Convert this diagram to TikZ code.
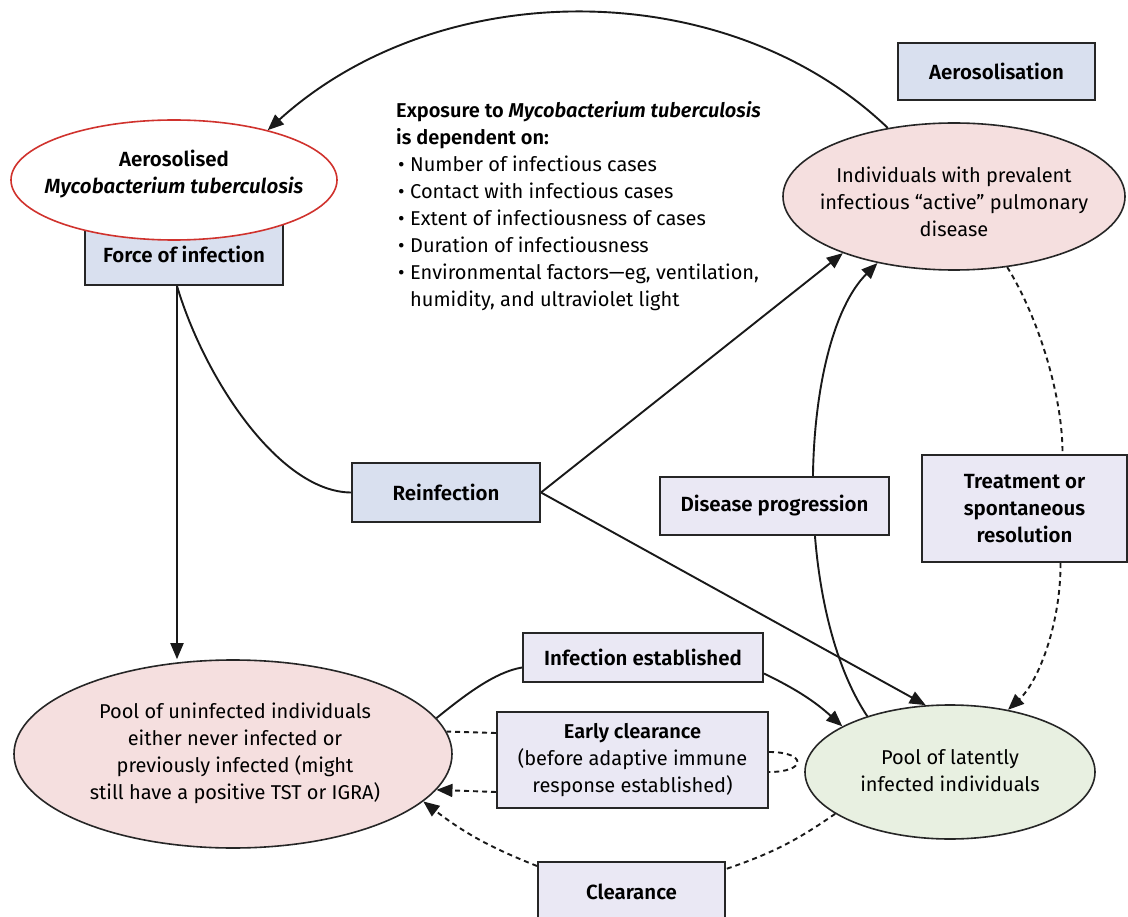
\documentclass[tikz,border=0pt]{standalone}
\usepackage{fontspec}
\setmainfont{Fira Sans}[BoldFont={Fira Sans SemiBold},BoldItalicFont={Fira Sans SemiBold Italic}]
\usetikzlibrary{arrows.meta,shapes.geometric}
\pgfdeclarelayer{bg}
\pgfsetlayers{bg,main}
\definecolor{boxblue}{HTML}{D9E0EF}
\definecolor{boxlav}{HTML}{EAE8F4}
\definecolor{pinkfill}{HTML}{F5DFDF}
\definecolor{greenfill}{HTML}{E8F0E1}
\definecolor{aerored}{HTML}{D0322D}
\newcommand{\fs}{\fontsize{20}{27}\selectfont}
\newcommand{\fb}{\fontsize{20.5}{27}\selectfont\bfseries}
\newcommand{\bul}{\hspace*{2pt}\makebox[12pt][l]{•}}
\begin{document}
\begin{tikzpicture}[x=1pt,y=-1pt,
  base/.style={font=\fs, align=center, inner sep=2pt},
  bluebox/.style={base, draw=black!85, line width=2pt, fill=boxblue, font=\fb},
  lavbox/.style={bluebox, fill=boxlav},
  pool/.style={ellipse, draw=black!85, line width=1.6pt, inner sep=0pt},
  conn/.style={line width=1.9pt, draw=black!90},
  tip/.style={-{Triangle[length=16pt,width=13pt]}},
  arr/.style={conn, tip},
  dashline/.style={conn, dash pattern=on 5pt off 4pt},
  dasharr/.style={dashline, tip}]
\useasboundingbox (0,0) rectangle (1128,917);

% boxes
\node[bluebox, minimum width=197, minimum height=57] (aerosol) at (996.5,71.5) {Aerosolisation};
\node[bluebox, minimum width=198, minimum height=62] (force) at (184,254) {Force of infection};
\node[pool, draw=aerored, fill=white, minimum width=326, minimum height=120] (aero) at (174,180) {};
\node[base, font=\fb] (aerotxt) at (174,174) {Aerosolised\\\textit{Mycobacterium tuberculosis}};

\node[pool, fill=pinkfill, minimum width=342, minimum height=147] (indiv) at (954,196.5) {};
\node[base] (indivtxt) at (954,202) {Individuals with prevalent\\infectious “active” pulmonary\\disease};

\node[bluebox, minimum width=188, minimum height=59] (reinf) at (446,492.5) {Reinfection};
\node[lavbox, minimum width=229, minimum height=58] (disprog) at (774.5,506) {Disease progression};
\node[lavbox, minimum width=205, minimum height=107] (treat) at (1024.5,508.5) {Treatment or\\spontaneous\\resolution};
\node[lavbox, minimum width=240, minimum height=49] (infest) at (643,657.5) {Infection established};
\node[lavbox, font=\fs, minimum width=271, minimum height=96] (early) at (632.5,760) {\textbf{Early clearance}\\(before adaptive immune\\response established)};
\node[lavbox, minimum width=187, minimum height=60] (clear) at (631.5,892) {Clearance};

\node[pool, fill=pinkfill, minimum width=438, minimum height=188] (uninf) at (233,754) {};
\node[base] (uninftxt) at (235,753) {Pool of uninfected individuals\\either never infected or\\previously infected (might\\still have a positive TST or IGRA)};

\node[pool, fill=greenfill, minimum width=290, minimum height=134] (latent) at (950,772) {};
\node[base] (latenttxt) at (950,771) {Pool of latently\\infected individuals};

% exposure text
\node[anchor=north west, align=left, font=\fs, inner sep=0pt] (expo) at (396,101)
{\textbf{Exposure to \textit{Mycobacterium tuberculosis}}\\
 \textbf{is dependent on:}\\
 \bul Number of infectious cases\\
 \bul Contact with infectious cases\\
 \bul Extent of infectiousness of cases\\
 \bul Duration of infectiousness\\
 \bul Environmental factors—eg, ventilation,\\
 \hspace*{14pt}humidity, and ultraviolet light};

% connectors
\begin{pgfonlayer}{bg}
\fill[white] (0,0) rectangle (1128,917);
\draw[arr] (indiv.134) .. controls (727,-26) and (440,-26) .. (aero.28);
\draw[arr] ([xshift=-7pt]force.south) -- ([xshift=-7pt]force.south |- uninf.north);
\draw[conn] ([xshift=-7pt]force.south) .. controls (205,380) and (280,492) .. (reinf.west);
\draw[arr] (reinf.east) -- (indiv.207);
\draw[arr] (reinf.east) -- (latent.110);
\draw[arr] (latent.146) .. controls (790,600) and (800,340) .. (indiv.221);
\draw[conn] (uninf.10) .. controls (465,695) and (495,672) .. ([yshift=-10pt]infest.west);
\draw[arr] ([yshift=-16pt]infest.east) to[bend left=8] (latent.157);
\draw[dashline] ([yshift=27pt]early.west) -- (uninf.6);
\draw[dasharr] ([yshift=-32pt]early.west) -- (uninf.350);
\draw[dashline] ([yshift=8pt]early.east) .. controls +(38,0) and +(38,0) .. ([yshift=-12pt]early.east);
\draw[dashline] (latent.200) to[bend left=8] ([yshift=-8pt]clear.north east);
\draw[dasharr] ([yshift=-5pt]clear.north west) to[bend left=8] (uninf.346);
\draw[dashline] (indiv.307) .. controls (1040,320) and (1063,400) .. ([xshift=38pt]treat.north);
\draw[dasharr] ([xshift=36pt]treat.south) .. controls (1061,620) and (1040,680) .. (latent.47);
\end{pgfonlayer}
\end{tikzpicture}
\end{document}
